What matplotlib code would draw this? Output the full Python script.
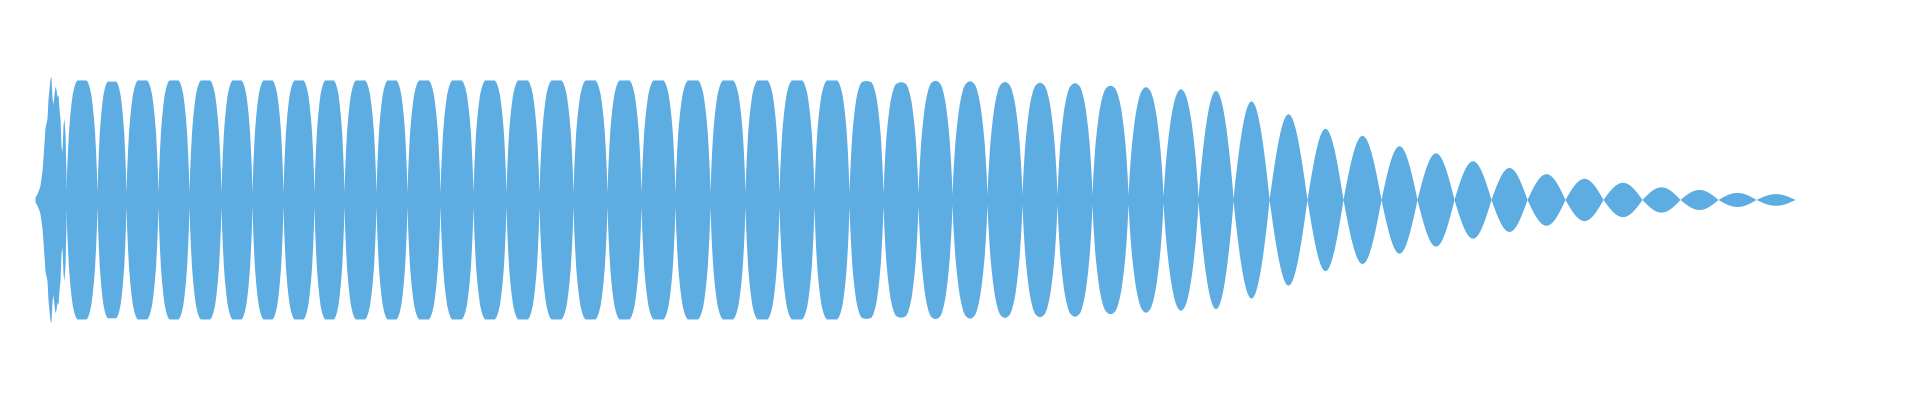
import numpy as np
import matplotlib
matplotlib.use('Agg')
import matplotlib.pyplot as plt

# --- data (time in seconds, amplitude normalised to 1) ---

# noisy attack at the very start of the clip
onset_t = [0.000, 0.002, 0.004, 0.005, 0.007, 0.008, 0.010, 0.012, 0.013, 0.014,
           0.015, 0.016, 0.017, 0.018, 0.019, 0.020, 0.021, 0.022, 0.023, 0.024,
           0.025, 0.026, 0.027, 0.028, 0.029, 0.030, 0.031]
onset_amp = [0.02, 0.05, 0.09, 0.12, 0.24, 0.35, 0.60, 0.68, 0.84, 0.93,
             1.01, 1.03, 0.85, 0.80, 0.88, 0.95, 0.92, 0.86, 0.88, 0.76,
             0.68, 0.45, 0.40, 0.62, 0.68, 0.55, 0.22]

# nodes (zero crossings of the beat envelope) after the attack
nodes = [0.031, 0.062, 0.091, 0.123, 0.154, 0.186, 0.217, 0.248, 0.279, 0.309,
         0.341, 0.372, 0.405, 0.438, 0.471, 0.504, 0.538, 0.572, 0.606, 0.640,
         0.675, 0.710, 0.744, 0.779, 0.814, 0.848, 0.883, 0.917, 0.952, 0.987,
         1.022, 1.057, 1.093, 1.128, 1.163, 1.198, 1.234, 1.272, 1.308, 1.346,
         1.382, 1.419, 1.456, 1.492, 1.530, 1.568, 1.607, 1.645, 1.683, 1.721,
         1.760]

# peak of each lobe between two nodes
peaks = [1.0, 0.99] + [1.0] * 22 + [0.995, 0.985,
         0.997, 0.993, 0.987, 0.981, 0.977, 0.956, 0.944, 0.927, 0.914,
         0.826, 0.718, 0.596, 0.537, 0.450, 0.391, 0.324, 0.268,
         0.216, 0.177, 0.144, 0.106, 0.084, 0.059, 0.049]

# how "squashed" (flat topped) each lobe looks: 1 = clipped, 0 = round
flatness = [1.0] * 24 + [0.9, 0.85,
            0.75, 0.7, 0.7, 0.7, 0.7, 0.7, 0.55, 0.4, 0.2,
            0.1, 0, 0, 0, 0, 0, 0, 0,
            0, 0, 0, 0, 0, 0, 0]

# half-lobe shapes (node -> middle), read from a clipped lobe and a tail lobe
shape_u = [0, 0.02, 0.05, 0.08, 0.12, 0.16, 0.2, 0.25, 0.3, 0.35, 0.4, 0.45, 0.5]
clipped_shape = [0.06, 0.24, 0.42, 0.57, 0.70, 0.80, 0.88, 0.94, 0.98, 1.0, 1.0, 1.0, 1.0]
round_shape = [0.0, 0.063, 0.156, 0.249, 0.368, 0.482, 0.588, 0.707, 0.809, 0.891, 0.951, 0.988, 1.0]

COLOR = '#5DADE2'


def build_envelope():
    """Put the attack and every lobe together into one envelope."""
    u_half = np.array(shape_u)
    u = np.concatenate([u_half, 1 - u_half[::-1][1:]])
    clip_full = np.concatenate([clipped_shape, clipped_shape[::-1][1:]])
    round_full = np.concatenate([round_shape, round_shape[::-1][1:]])

    t_all = list(onset_t)
    a_all = list(onset_amp)
    for i, pk in enumerate(peaks):
        a, b = nodes[i], nodes[i + 1]
        w = flatness[i]
        prof = w * clip_full + (1 - w) * round_full
        t_all.extend(a + u * (b - a))
        a_all.extend(pk * prof)
    return np.array(t_all), np.array(a_all)


t, env = build_envelope()

fig = plt.figure(figsize=(19.2, 4), dpi=100)
ax = fig.add_axes([0, 0, 1, 1])
ax.fill_between(t, -env, env, color=COLOR, linewidth=0)

# waveform starts 35px in, full scale is ~120px each way around y=200
ax.set_xlim(-0.035, 1.885)
ax.set_ylim(-1.678, 1.669)
ax.axis('off')

fig.savefig('out.png', dpi=100, facecolor='white')
plt.close(fig)
